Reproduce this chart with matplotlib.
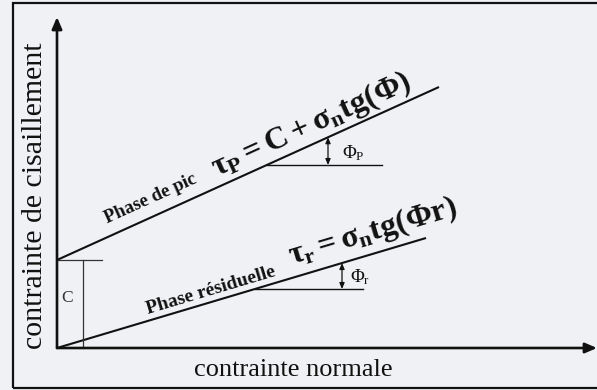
import matplotlib
matplotlib.use("Agg")
import matplotlib.pyplot as plt
from matplotlib.patches import Rectangle
import numpy as np

plt.rcParams["font.family"] = ["Liberation Serif", "DejaVu Serif"]
plt.rcParams["mathtext.fontset"] = "custom"
plt.rcParams["mathtext.rm"] = "Liberation Serif:bold"
plt.rcParams["mathtext.it"] = "Liberation Serif:bold"
plt.rcParams["mathtext.bf"] = "Liberation Serif:bold"

# Mohr-Coulomb envelopes (normal stress -> shear stress)
sigma_peak = [0, 382]
tau_peak = [88, 261]
sigma_res = [0, 369]
tau_res = [0, 110]
cohesion = 88

xlabel = "contrainte normale"
ylabel = "contrainte de cisaillement"
peak_name = "Phase de pic"
res_name = "Phase résiduelle"
peak_eq = r"$\tau_P = C + \sigma_n tg(\Phi)$"
res_eq = r"$\tau_r = \sigma_n tg(\Phi r)$"
peak_angle_label = "Φ$_\\mathregular{P}$"
res_angle_label = "Φ$_\\mathregular{r}$"

BG = "#f0f1f4"
INK = "#111111"

fig = plt.figure(figsize=(5.97, 3.90), dpi=100, facecolor=BG)
ax = fig.add_axes([0, 0, 1, 1])
ax.set_facecolor(BG)
ax.set_xlim(-57, 540)
ax.set_ylim(-42, 348)
ax.axis("off")

# outer frame
ax.add_patch(Rectangle((-44, -40), 700, 385, fill=False, lw=1.6, ec=INK))

# axes arrows
ax.annotate("", xy=(540, 0), xytext=(0, 0),
            arrowprops=dict(arrowstyle="-|>,head_length=0.7,head_width=0.3",
                            lw=1.9, color=INK, shrinkA=0, shrinkB=0))
ax.annotate("", xy=(0, 331), xytext=(0, 0),
            arrowprops=dict(arrowstyle="-|>,head_length=0.7,head_width=0.3",
                            lw=1.9, color=INK, shrinkA=0, shrinkB=0))

# envelopes
ax.plot(sigma_peak, tau_peak, color=INK, lw=1.5, solid_capstyle="butt")
ax.plot(sigma_res, tau_res, color=INK, lw=1.5, solid_capstyle="butt")

slope_p = (tau_peak[1] - tau_peak[0]) / (sigma_peak[1] - sigma_peak[0])
slope_r = (tau_res[1] - tau_res[0]) / (sigma_res[1] - sigma_res[0])
ang_p = np.degrees(np.arctan(slope_p))
ang_r = np.degrees(np.arctan(slope_r))

# cohesion bracket
ax.plot([0, 45], [cohesion, cohesion], color="#333333", lw=0.9)
ax.plot([26, 26], [0, cohesion], color="#333333", lw=0.9)
ax.text(10, 50, "C", fontsize=12.5, color="#333333", ha="center", va="center")

# friction angle markers
def angle_mark(tau0, slope, y_h, x_end, x_arrow, label, lx, ly):
    x_start = (y_h - tau0) / slope
    ax.plot([x_start, x_end], [y_h, y_h], color=INK, lw=1.0)
    y_top = tau0 + slope * x_arrow
    ax.annotate("", xy=(x_arrow, y_h), xytext=(x_arrow, y_top),
                arrowprops=dict(arrowstyle="<|-|>,head_length=0.35,head_width=0.15",
                                lw=0.9, color=INK, shrinkA=0, shrinkB=0))
    ax.text(lx, ly, label, fontsize=13.5, ha="center", va="center", color=INK)

angle_mark(tau_peak[0], slope_p, 183, 325, 271, peak_angle_label, 296, 195)
angle_mark(tau_res[0], slope_r, 59, 306, 285, res_angle_label, 303, 71)

# line labels
ax.text(94, 149, peak_name, rotation=ang_p, rotation_mode="anchor",
        fontsize=13.5, fontweight="bold", ha="center", va="center", color=INK)
ax.text(254, 223, peak_eq, rotation=ang_p, rotation_mode="anchor",
        fontsize=23, ha="center", va="center", color=INK)
ax.text(154, 57, res_name, rotation=ang_r, rotation_mode="anchor",
        fontsize=14, fontweight="bold", ha="center", va="center", color=INK)
ax.text(316, 116, res_eq, rotation=ang_r, rotation_mode="anchor",
        fontsize=23, ha="center", va="center", color=INK)

# axis titles
ax.text(-22, 152, ylabel, rotation=90, fontsize=21.5, ha="center", va="center", color=INK)
ax.text(236, -22, xlabel, fontsize=19, ha="center", va="center", color=INK)

fig.savefig("out.png", dpi=100, facecolor=BG)
